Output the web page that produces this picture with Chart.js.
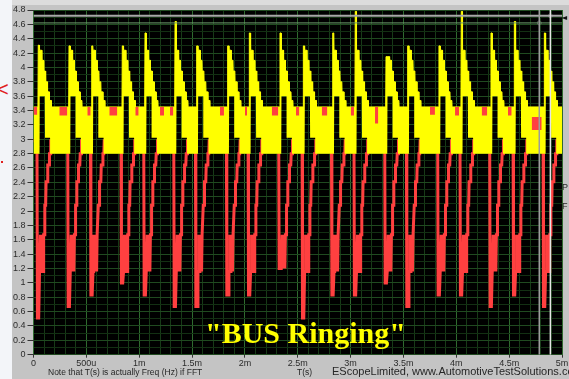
<!DOCTYPE html>
<html>
<head>
<meta charset="utf-8">
<script src="https://cdn.jsdelivr.net/npm/chart.js@4.4.1/dist/chart.umd.min.js"></script>
<style>
  html, body { margin: 0; padding: 0; }
  body { width: 569px; height: 379px; position: relative; overflow: hidden; background: #f3f5f9; font-family: "Liberation Sans", Arial, sans-serif; }
  #frame { position: absolute; left: 12px; top: 0; width: 557px; height: 379px; background: #c4c4c4; }
  #lip { position: absolute; left: 12px; top: 0; width: 557px; height: 5px; background: #dcdcdc; }
  #scope { position: absolute; left: 0; top: 0; }
  #edge { position: absolute; left: 0; top: 0; width: 12px; height: 379px; background: #f3f5f9; }
  .mark { position: absolute; color: #e02020; }
  .txt { position: absolute; white-space: nowrap; color: #262626; }
  #title { position: absolute; left: 205px; top: 318px; font: bold 30px/30px "Liberation Serif", "Times New Roman", serif; color: #ffff00; white-space: nowrap; }
</style>
</head>
<body>
<div id="frame"></div>
<div id="lip"></div>
<canvas id="scope" width="569" height="379"></canvas>
<div id="edge"></div>
<div class="mark" style="left:-3px; top:78px; font: 20px 'Liberation Sans', sans-serif;">&lt;</div>
<div class="mark" style="left:1px; top:161px; width:2px; height:2px; background:#e02020;"></div>
<div id="title">"BUS Ringing"</div>
<div class="txt" style="left:48px; top:367px; font-size:8.5px;">Note that T(s) is actually Freq (Hz) if FFT</div>
<div class="txt" style="left:297px; top:367px; font-size:8.5px;">T(s)</div>
<div class="txt" style="left:332px; top:365px; font-size:11px;">EScopeLimited, www.AutomotiveTestSolutions.com</div>
<div class="txt" style="left:562px; top:182px; font-size:9px;">P</div>
<div class="txt" style="left:562px; top:201px; font-size:9px;">F</div>
<div class="txt" style="left:561px; top:13px; font: 8px 'DejaVu Sans', sans-serif; color:#111;">&#9668;</div>
<script>
// time axis is in ms, voltage in V
const xTickLabels = ["0", "500u", "1m", "1.5m", "2m", "2.5m", "3m", "3.5m", "4m", "4.5m", "5m"];
const yTickLabels = ["0", "0.2", "0.4", "0.6", "0.8", "1", "1.2", "1.4", "1.6", "1.8", "2", "2.2", "2.4",
                     "2.6", "2.8", "3", "3.2", "3.4", "3.6", "3.8", "4", "4.2", "4.4", "4.6", "4.8"];

// each bus edge: when it happens, how high the yellow trace spikes, how low the red one drops
const eventTimes = [0.045, 0.336, 0.551, 0.840, 1.055, 1.339, 1.544, 1.837, 2.042, 2.332,
                    2.553, 2.831, 3.044, 3.335, 3.540, 3.836, 4.047, 4.328, 4.549, 4.833];
const yellowPeaks = [4.31, 4.30, 4.30, 4.30, 4.48, 4.64, 4.30, 4.30, 4.48, 4.48,
                     4.30, 4.48, 4.78, 4.15, 4.30, 4.30, 4.78, 4.48, 4.64, 4.48];
const redMins = [0.51, 0.67, 0.83, 1.00, 0.83, 0.67, 0.67, 0.83, 0.83, 1.20,
                 0.51, 0.83, 0.83, 1.00, 0.67, 0.83, 0.83, 0.67, 0.83, 0.67];

// ringing band levels
const bandTop = 3.45;
const bandBottom = 2.8;
const redRest = 2.98;

const yellowDecay = [[0.012, 4.24], [0.032, 4.24], [0.034, 4.1], [0.05, 4.1], [0.052, 3.95], [0.068, 3.95],
                     [0.07, 3.8], [0.086, 3.8], [0.088, 3.66], [0.104, 3.66], [0.106, 3.54], [0.122, 3.54], [0.124, 3.45]];
const yellowNotch = [[0.012, 2.8], [0.014, 3.6], [0.062, 3.6], [0.064, 3.02], [0.112, 3.02], [0.114, 2.8]];
const redRecovery = [[0.012, 1.16], [0.016, 1.16], [0.021, 1.67], [0.026, 1.16], [0.031, 1.67], [0.036, 1.16],
                     [0.041, 1.67], [0.046, 1.16], [0.051, 1.67], [0.058, 1.67], [0.062, 2.08], [0.07, 2.08],
                     [0.074, 2.41], [0.086, 2.41], [0.09, 2.64], [0.102, 2.64], [0.106, 2.8], [0.114, 2.8],
                     [0.118, 2.98]];

// red showing above the yellow band
const plateauStart = [0.0, 0.244, 0.509, 0.717, 0.963, 1.197, 1.291, 1.764, 2.001, 2.254,
                      2.483, 2.727, 3.001, 3.231, 3.751, 3.988, 4.240, 4.489, 4.713];
const plateauEnd = [0.036, 0.320, 0.541, 0.793, 0.995, 1.235, 1.323, 1.802, 2.020, 2.316,
                    2.515, 2.780, 3.032, 3.262, 3.798, 4.026, 4.293, 4.524, 4.808];
const plateauTop = [3.45, 3.45, 3.45, 3.45, 3.45, 3.45, 3.45, 3.45, 3.45, 3.45,
                    3.45, 3.45, 3.45, 3.45, 3.45, 3.45, 3.45, 3.45, 3.31];
const plateauBottom = [3.34, 3.33, 3.33, 3.33, 3.33, 3.33, 3.33, 3.33, 3.33, 3.33,
                       3.33, 3.33, 3.33, 3.22, 3.34, 3.33, 3.33, 3.33, 3.13];

// cursors
const cursorTimes = [4.785, 4.89];
const cursorLevels = [4.62, 4.72];

const yellowTop = [{x: 0, y: bandTop}];
const yellowBottom = [{x: 0, y: bandBottom}];
const redTrace = [{x: 0, y: redRest}];
eventTimes.forEach((t, i) => {
  const p = yellowPeaks[i], m = redMins[i];
  yellowTop.push({x: t - 0.003, y: bandTop}, {x: t, y: p}, {x: t + 0.01, y: p});
  yellowDecay.forEach(([dt, v]) => yellowTop.push({x: t + dt, y: Math.min(v, p)}));
  yellowNotch.forEach(([dt, v]) => yellowBottom.push({x: t + dt, y: v}));
  redTrace.push({x: t - 0.012, y: redRest}, {x: t - 0.008, y: m}, {x: t + 0.004, y: m});
  redRecovery.forEach(([dt, v]) => redTrace.push({x: t + dt, y: Math.max(v, m)}));
});
yellowTop.push({x: 5, y: bandTop});
yellowBottom.push({x: 5, y: bandBottom});
redTrace.push({x: 5, y: redRest});

const datasets = [];
datasets.push({data: [{x: cursorTimes[0], y: 0}, {x: cursorTimes[0], y: 4.8}], borderColor: "#9c9c9c", borderWidth: 1.5});
datasets.push({data: [{x: cursorTimes[1], y: 0}, {x: cursorTimes[1], y: 4.8}], borderColor: "#e4e4e4", borderWidth: 1.5});
datasets.push({data: [{x: 0, y: cursorLevels[1]}, {x: 5, y: cursorLevels[1]}], borderColor: "#a8a8a8", borderWidth: 2});
datasets.push({data: [{x: 0, y: cursorLevels[0]}, {x: 5, y: cursorLevels[0]}], borderColor: "#6f9f6f", borderWidth: 1});
datasets.push({data: [{x: cursorTimes[0], y: cursorLevels[0]}, {x: cursorTimes[1], y: cursorLevels[1]}],
               showLine: false, pointRadius: 2, pointBorderColor: "#555", pointBorderWidth: 1, pointBackgroundColor: "rgba(0,0,0,0)"});
plateauStart.forEach((s, i) => {
  datasets.push({data: [{x: s, y: plateauTop[i]}, {x: plateauEnd[i], y: plateauTop[i]}],
                 borderWidth: 0, borderColor: "#ff4040", backgroundColor: "#ff4040", fill: {value: plateauBottom[i]}});
});
const yellowIndex = datasets.length;
datasets.push({data: yellowTop, borderColor: "#ffff00", borderWidth: 1, backgroundColor: "#ffff00", fill: yellowIndex + 1});
datasets.push({data: yellowBottom, borderColor: "rgba(0,0,0,0)", borderWidth: 0, fill: false});
datasets.push({data: redTrace, borderColor: "#ff4040", borderWidth: 3, fill: false});

const plotBackground = {
  id: "plotBackground",
  beforeDraw(chart) {
    const {ctx, chartArea} = chart;
    ctx.save();
    ctx.fillStyle = "#000";
    ctx.fillRect(chartArea.left, chartArea.top, chartArea.right - chartArea.left, chartArea.bottom - chartArea.top);
    ctx.restore();
  }
};

const tickFont = {family: "'Liberation Sans', Arial, sans-serif", size: 9};
const xStep = v => Math.round(v * 10);

new Chart(document.getElementById("scope"), {
  type: "line",
  data: {datasets: datasets},
  options: {
    responsive: false,
    animation: false,
    events: [],
    layout: {padding: {left: 0, right: 7, top: 10, bottom: 0}},
    elements: {point: {radius: 0}, line: {tension: 0}},
    plugins: {legend: {display: false}, tooltip: {enabled: false}},
    scales: {
      x: {
        type: "linear", min: 0, max: 5,
        afterFit: s => { s.height = 24.3; },
        border: {display: false},
        ticks: {
          stepSize: 0.1, autoSkip: false, maxRotation: 0, padding: 0, color: "#2b2b2b", font: tickFont,
          callback: v => (xStep(v) % 5 === 0 ? xTickLabels[xStep(v) / 5] : "")
        },
        grid: {
          tickLength: 3,
          color: c => (c.tick && xStep(c.tick.value) % 5 === 0 ? "#2f6a2f" : "#173a17"),
          tickColor: c => (c.tick && xStep(c.tick.value) % 5 === 0 ? "#333" : "rgba(0,0,0,0)")
        }
      },
      y: {
        min: 0, max: 4.8,
        afterFit: s => { s.width = 33.5; },
        border: {display: false},
        ticks: {
          stepSize: 0.1, autoSkip: false, padding: 2, color: "#2b2b2b", font: tickFont,
          callback: v => (xStep(v) % 2 === 0 ? yTickLabels[xStep(v) / 2] : "")
        },
        grid: {
          tickLength: 6,
          color: c => (c.tick && xStep(c.tick.value) % 2 === 0 ? "#204a20" : "#133013"),
          tickColor: c => (c.tick && xStep(c.tick.value) % 2 === 0 ? "#333" : "rgba(0,0,0,0)")
        }
      }
    }
  },
  plugins: [plotBackground]
});
</script>
</body>
</html>
